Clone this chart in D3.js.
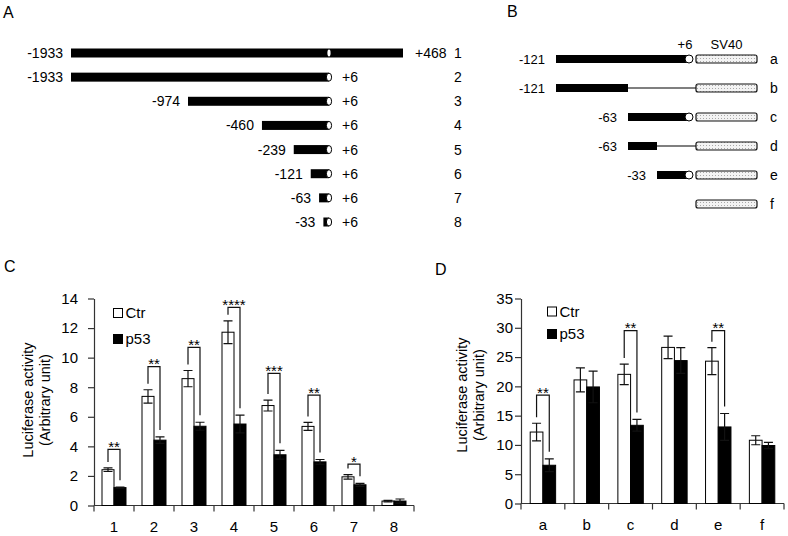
<!DOCTYPE html>
<html><head><meta charset="utf-8">
<script src="https://cdn.jsdelivr.net/npm/d3@7"></script>
<style>
body{margin:0;background:#fff}
svg{display:block;font-family:"Liberation Sans",Arial,sans-serif}
</style>
</head><body>
<svg id="fig" width="788" height="536"></svg>
<script>
// ---------- Panel A : deletion constructs ----------
const rowsA   = ["1","2","3","4","5","6","7","8"];
const startA  = [-1933,-1933,-974,-460,-239,-121,-63,-33];
const endA    = [468,6,6,6,6,6,6,6];
const startLabA = ["-1933","-1933","-974","-460","-239","-121","-63","-33"];
const endLabA   = ["+468","+6","+6","+6","+6","+6","+6","+6"];
const tssA = 6;

// ---------- Panel B : mutant constructs ----------
const rowsB     = ["a","b","c","d","e","f"];
const startB    = [-121,-121,-63,-63,-33,null];
const blackEndB = [6,-63,6,-33,6,null];
const hasTssB   = [true,false,true,false,true,false];
const startLabB = ["-121","-121","-63","-63","-33",""];
const tssB = 6;

// ---------- Panel C : luciferase, constructs 1-8 ----------
const catsC    = ["1","2","3","4","5","6","7","8"];
const ctrC     = [2.42, 7.38, 8.58, 11.72, 6.76, 5.35, 1.94, 0.30];
const ctrErrC  = [0.12, 0.45, 0.55, 0.77, 0.37, 0.27, 0.15, 0.05];
const p53C     = [1.21, 4.42, 5.36, 5.51, 3.43, 2.95, 1.40, 0.30];
const p53ErrC  = [0.03, 0.22, 0.27, 0.60, 0.30, 0.16, 0.10, 0.14];
const sigC     = ["**","**","**","****","***","**","*",""];
const brkC     = [3.79, 9.39, 10.70, 13.40, 8.93, 7.47, 2.80, null];
const ticksC   = [0,2,4,6,8,10,12,14];

// ---------- Panel D : luciferase, constructs a-f ----------
const catsD    = ["a","b","c","d","e","f"];
const ctrD     = [12.2, 21.1, 22.05, 26.65, 24.3, 10.8];
const ctrErrD  = [1.5, 2.05, 1.75, 1.93, 2.3, 0.77];
const p53D     = [6.53, 19.9, 13.35, 24.4, 13.07, 9.9];
const p53ErrD  = [1.1, 2.7, 1.0, 2.2, 2.3, 0.54];
const sigD     = ["**","","**","","**",""];
const brkD     = [18.5, null, 29.5, null, 29.5, null];
const ticksD   = [0,5,10,15,20,25,30,35];

const seriesNames = ["Ctr","p53"];
const yTitle = ["Luciferase activity","(Arbitrary unit)"];

const svg = d3.select("#fig");

// dotted pattern for SV40 boxes
const defs = svg.append("defs");
const pat = defs.append("pattern").attr("id","dots").attr("patternUnits","userSpaceOnUse")
  .attr("width",3).attr("height",3);
pat.append("rect").attr("width",3).attr("height",3).attr("fill","#f3f3f3");
pat.append("rect").attr("x",1).attr("y",1).attr("width",1).attr("height",1).attr("fill","#a8a8a8");

// panel letters
[["A",3,18],["B",507,17],["C",4,272],["D",435,275]].forEach(([t,x,y])=>{
  svg.append("text").attr("x",x).attr("y",y).attr("font-size",16).text(t);
});

// ================= Panel A =================
(function(){
  const xA = d3.scaleLinear().domain([-1933,-974,6,468]).range([71,188,329,403]);
  const yA = d3.scalePoint().domain(rowsA).range([53,222]);
  const g = svg.append("g");
  const h = 9;
  rowsA.forEach((r,i)=>{
    const y = yA(r);
    g.append("rect").attr("x",xA(startA[i])).attr("y",y-h/2)
      .attr("width",xA(endA[i])-xA(startA[i])).attr("height",h).attr("fill","#000");
    if (endA[i] > tssA) {
      g.append("ellipse").attr("cx",xA(tssA)).attr("cy",y).attr("rx",1.6).attr("ry",3.4).attr("fill","#fff");
    } else {
      g.append("ellipse").attr("cx",xA(tssA)).attr("cy",y).attr("rx",2.6).attr("ry",4).attr("fill","#fff")
        .attr("stroke","#000").attr("stroke-width",1);
    }
    g.append("text").attr("x",xA(startA[i])-8).attr("y",y).attr("dy","0.36em")
      .attr("text-anchor","end").attr("font-size",14).text(startLabA[i]);
    g.append("text").attr("x",xA(endA[i])+ (endA[i]>tssA?12:13)).attr("y",y).attr("dy","0.36em")
      .attr("font-size",14).text(endLabA[i]);
    g.append("text").attr("x",458).attr("y",y).attr("dy","0.36em").attr("text-anchor","middle")
      .attr("font-size",14).text(r);
  });
})();

// ================= Panel B =================
(function(){
  const xB = d3.scaleLinear().domain([-121,-63,-33,6]).range([556,628,657,689]);
  const yB = d3.scalePoint().domain(rowsB).range([59,204]);
  const g = svg.append("g");
  const h = 8, boxOff = 7, boxW = 61;
  const bx = xB(tssB)+boxOff;
  g.append("text").attr("x",xB(tssB)-4).attr("y",49).attr("text-anchor","middle").attr("font-size",13).text("+6");
  g.append("text").attr("x",bx+boxW/2).attr("y",49).attr("text-anchor","middle").attr("font-size",13).text("SV40");
  rowsB.forEach((r,i)=>{
    const y = yB(r);
    if (startB[i] !== null) {
      g.append("rect").attr("x",xB(startB[i])).attr("y",y-h/2)
        .attr("width",xB(blackEndB[i])-xB(startB[i])).attr("height",h).attr("fill","#000");
      if (hasTssB[i]) {
        g.append("circle").attr("cx",xB(tssB)).attr("cy",y).attr("r",4).attr("fill","#fff")
          .attr("stroke","#000").attr("stroke-width",1);
      } else {
        g.append("line").attr("x1",xB(blackEndB[i])).attr("x2",bx).attr("y1",y).attr("y2",y)
          .attr("stroke","#000").attr("stroke-width",1.2);
      }
      g.append("text").attr("x",xB(startB[i])-11).attr("y",y).attr("dy","0.36em")
        .attr("text-anchor","end").attr("font-size",13).text(startLabB[i]);
    }
    g.append("rect").attr("x",bx).attr("y",y-h/2).attr("width",boxW).attr("height",h)
      .attr("rx",2).attr("fill","url(#dots)").attr("stroke","#111").attr("stroke-width",1.2);
    g.append("text").attr("x",770).attr("y",y).attr("dy","0.36em").attr("font-size",14).text(r);
  });
})();

// ================= Bar charts =================
function barChart(cfg){
  const g = svg.append("g");
  const x = d3.scaleBand().domain(cfg.cats).range([cfg.x0,cfg.x1]);
  const y = d3.scaleLinear().domain([0,cfg.ticks[cfg.ticks.length-1]]).range([cfg.y0,cfg.y1]);
  const bw = x.bandwidth()*cfg.barFrac;
  const axCol = "#333";

  // y axis
  const ya = g.append("g").attr("transform",`translate(${cfg.x0},0)`)
    .call(d3.axisLeft(y).tickValues(cfg.ticks).tickSize(6).tickSizeOuter(0).tickPadding(cfg.pad));
  ya.select(".domain").attr("stroke",axCol).attr("stroke-width",1.2);
  ya.selectAll(".tick line").attr("stroke",axCol).attr("stroke-width",1.2);
  ya.selectAll(".tick text").attr("font-size",15).attr("fill","#000")
    .attr("font-family","'Liberation Sans',Arial,sans-serif");

  // x axis
  g.append("line").attr("x1",cfg.x0).attr("x2",cfg.x1).attr("y1",y(0)).attr("y2",y(0))
    .attr("stroke",axCol).attr("stroke-width",1.2);
  const bounds = cfg.cats.map(c=>x(c)).concat([cfg.x1]);
  g.selectAll(null).data(bounds).enter().append("line")
    .attr("x1",d=>d).attr("x2",d=>d).attr("y1",y(0)).attr("y2",y(0)+6)
    .attr("stroke",axCol).attr("stroke-width",1.2);
  g.selectAll(null).data(cfg.cats).enter().append("text")
    .attr("x",d=>x(d)+x.bandwidth()/2).attr("y",cfg.labY).attr("text-anchor","middle")
    .attr("font-size",15).text(d=>d);

  const cx = c => x(c)+x.bandwidth()/2;

  // bars
  cfg.cats.forEach((c,i)=>{
    g.append("rect").attr("x",cx(c)-bw).attr("y",y(cfg.ctr[i])).attr("width",bw)
      .attr("height",y(0)-y(cfg.ctr[i])).attr("fill","#fff").attr("stroke","#000").attr("stroke-width",1);
    g.append("rect").attr("x",cx(c)).attr("y",y(cfg.p53[i])).attr("width",bw)
      .attr("height",y(0)-y(cfg.p53[i])).attr("fill","#000").attr("stroke","#000").attr("stroke-width",1);
    // error bars
    [[cx(c)-bw/2,cfg.ctr[i],cfg.ctrErr[i]],[cx(c)+bw/2,cfg.p53[i],cfg.p53Err[i]]].forEach(([ex,v,e])=>{
      const p = d3.path();
      p.moveTo(ex,y(v+e)); p.lineTo(ex,y(v-e));
      p.moveTo(ex-4.5,y(v+e)); p.lineTo(ex+4.5,y(v+e));
      p.moveTo(ex-4.5,y(v-e)); p.lineTo(ex+4.5,y(v-e));
      g.append("path").attr("d",p.toString()).attr("stroke","#111").attr("stroke-width",1.2).attr("fill","none");
    });
    // significance bracket
    if (cfg.brk[i] !== null) {
      const lx = cx(c)-bw/2, rx = cx(c)+bw/2, by = y(cfg.brk[i]);
      const p = d3.path();
      p.moveTo(lx, y(cfg.ctr[i]+cfg.ctrErr[i])-6);
      p.lineTo(lx, by); p.lineTo(rx, by);
      p.lineTo(rx, y(cfg.p53[i]+cfg.p53Err[i])-7);
      g.append("path").attr("d",p.toString()).attr("stroke","#111").attr("stroke-width",1.2).attr("fill","none");
      g.append("text").attr("x",(lx+rx)/2).attr("y",by+2.5).attr("text-anchor","middle")
        .attr("font-size",15).text(cfg.sig[i]);
    }
  });

  // legend
  seriesNames.forEach((s,k)=>{
    const ly = cfg.legY + k*cfg.legGap;
    g.append("rect").attr("x",cfg.legX).attr("y",ly).attr("width",9).attr("height",9)
      .attr("fill",k===0?"#fff":"#000").attr("stroke","#000").attr("stroke-width",1);
    g.append("text").attr("x",cfg.legX+12).attr("y",ly+9.5).attr("font-size",15).text(s);
  });

  // y title
  yTitle.forEach((t,k)=>{
    g.append("text").attr("transform",`translate(${cfg.titleX[k]},${cfg.titleCY}) rotate(-90)`)
      .attr("text-anchor","middle").attr("dy","0.35em").attr("font-size",14.5).text(t);
  });
}

barChart({cats:catsC, ctr:ctrC, ctrErr:ctrErrC, p53:p53C, p53Err:p53ErrC, sig:sigC, brk:brkC,
  ticks:ticksC, x0:94, x1:414, y0:505.5, y1:298.5, barFrac:0.3, pad:10, labY:532,
  legX:113.5, legY:308.5, legGap:26, titleX:[28,45], titleCY:400});

barChart({cats:catsD, ctr:ctrD, ctrErr:ctrErrD, p53:p53D, p53Err:p53ErrD, sig:sigD, brk:brkD,
  ticks:ticksD, x0:521, x1:784, y0:503.5, y1:298.5, barFrac:0.29, pad:2, labY:530,
  legX:547.5, legY:307, legGap:22.5, titleX:[462,478.5], titleCY:395});
</script>
</body></html>
